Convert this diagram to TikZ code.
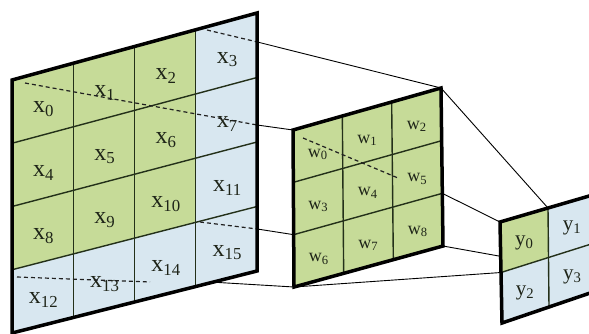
\documentclass[tikz,border=0pt]{standalone}
\usepackage{fontspec}
\setmainfont{Liberation Serif}
\usetikzlibrary{calc}
\definecolor{cgreen}{RGB}{198,219,152}
\definecolor{cblue}{RGB}{216,231,240}
\definecolor{cgrid}{RGB}{35,48,25}
\definecolor{ctext}{RGB}{30,36,24}
\newcommand\mkgrid[6]{%
  \foreach \i in {0,...,#6}{\foreach \j in {0,...,#6}{%
    \coordinate (#1-\i-\j) at ($ ($(#2)!\i/#6!(#3)$)!\j/#6!($(#4)!\i/#6!(#5)$) $);
  }}}
\tikzset{
  outer/.style={line width=3.5pt, line join=miter, black},
  inner/.style={line width=1.4pt, cgrid},
  conn/.style={line width=0.9pt, black},
  dash line/.style={line width=1.2pt, gray!25!black, dash pattern=on 4pt off 3pt},
  xlab/.style={text=ctext, font=\fontsize{24}{24}\selectfont, inner sep=0pt},
  wlab/.style={text=ctext, font=\fontsize{18}{18}\selectfont, inner sep=0pt},
  ylab/.style={text=ctext, font=\fontsize{21}{21}\selectfont, inner sep=0pt},
}
\begin{document}
\begin{tikzpicture}[x=1pt,y=-1pt]
\useasboundingbox (0,0) rectangle (589,333);
% ---------- corners
\coordinate (bTL) at (12,80);   \coordinate (bTR) at (257,13);
\coordinate (bBL) at (12,333);  \coordinate (bBR) at (257,271);
\coordinate (mTL) at (293,130); \coordinate (mTR) at (441,88);
\coordinate (mBL) at (294,287); \coordinate (mBR) at (443,246);
\coordinate (sTL) at (500,222); \coordinate (sTR) at (596,194);
\coordinate (sBL) at (502,323); \coordinate (sBR) at (596,291);
\mkgrid{b}{bTL}{bTR}{bBL}{bBR}{4}
\mkgrid{m}{mTL}{mTR}{mBL}{mBR}{3}
\mkgrid{s}{sTL}{sTR}{sBL}{sBR}{2}
% ---------- big input grid
\fill[cblue] (b-0-0) -- (b-4-0) -- (b-4-4) -- (b-0-4) -- cycle;
\fill[cgreen] (b-0-0) -- (b-3-0) -- (b-3-3) -- (b-0-3) -- cycle;
\foreach \k in {1,2,3}{
  \draw[inner] (b-\k-0) -- (b-\k-4);
  \draw[inner] (b-0-\k) -- (b-4-\k);
}
\foreach \i in {0,...,3}{\foreach \j in {0,...,3}{
  \pgfmathtruncatemacro\ii{\i+1}\pgfmathtruncatemacro\jj{\j+1}
  \pgfmathtruncatemacro\n{4*\j+\i}
  \node[xlab] (x\n) at ($ ($(b-\i-\j)!0.5!(b-\ii-\jj)$) + (1,6) $) {x\textsubscript{\n}};
}}
% dashed projection lines on the input
\coordinate (bA) at ($(b-4-0)!0.112!(b-4-4)$);
\coordinate (bB) at ($(b-4-0)!0.434!(b-4-4)$);
\coordinate (bC) at ($(b-4-0)!0.837!(b-4-4)$);
\coordinate (bD) at ($(b-0-4)!0.82!(b-4-4)$);
\coordinate (d1s) at (207,30);
\coordinate (d2s) at (25,83);
\coordinate (d3s) at (17,277);
\coordinate (d3e) at (150,282);
\coordinate (d4s) at (200,222);
\draw[dash line] (d1s) -- (bA);
\draw[dash line] (d2s) -- (bB);
\draw[dash line] (d3s) -- (d3e);
\draw[dash line] (d4s) -- (bC);
\draw[outer] (b-0-0) -- (b-4-0) -- (b-4-4) -- (b-0-4) -- cycle;
% ---------- kernel grid
\fill[cgreen] (m-0-0) -- (m-3-0) -- (m-3-3) -- (m-0-3) -- cycle;
\foreach \k in {1,2}{
  \draw[inner] (m-\k-0) -- (m-\k-3);
  \draw[inner] (m-0-\k) -- (m-3-\k);
}
\foreach \i in {0,1,2}{\foreach \j in {0,1,2}{
  \pgfmathtruncatemacro\ii{\i+1}\pgfmathtruncatemacro\jj{\j+1}
  \pgfmathtruncatemacro\n{3*\j+\i}
  \node[wlab] (w\n) at ($ ($(m-\i-\j)!0.5!(m-\ii-\jj)$) + (0,5) $) {w\textsubscript{\n}};
}}
\coordinate (md1) at (303,138);
\coordinate (md2) at (398,178);
\draw[dash line] (md1) -- (md2);
\draw[outer] (m-0-0) -- (m-3-0) -- (m-3-3) -- (m-0-3) -- cycle;
% ---------- output grid
\fill[cblue] (s-0-0) -- (s-2-0) -- (s-2-2) -- (s-0-2) -- cycle;
\fill[cgreen] (s-0-0) -- (s-1-0) -- (s-1-1) -- (s-0-1) -- cycle;
\draw[inner] (s-1-0) -- (s-1-2);
\draw[inner] (s-0-1) -- (s-2-1);
\foreach \i in {0,1}{\foreach \j in {0,1}{
  \pgfmathtruncatemacro\ii{\i+1}\pgfmathtruncatemacro\jj{\j+1}
  \pgfmathtruncatemacro\n{2*\j+\i}
  \node[ylab] (y\n) at ($ ($(s-\i-\j)!0.5!(s-\ii-\jj)$) + (0,3) $) {y\textsubscript{\n}};
}}
\draw[outer] (s-0-0) -- (s-2-0) -- (s-2-2) -- (s-0-2) -- cycle;
% ---------- connectors
\coordinate (sL) at ($(s-0-0)!0.34!(s-0-2)$);
\draw[conn] (bA) -- (m-3-0);
\draw[conn] (bB) -- (m-0-0);
\draw[conn] (bC) -- (m-0-2);
\draw[conn] (bD) -- (m-0-3);
\draw[conn] (m-3-0) -- (s-1-0);
\draw[conn] (m-3-2) -- (s-0-0);
\draw[conn] (m-3-3) -- (sL);
\draw[conn] (m-0-3) -- (s-0-1);
\end{tikzpicture}
\end{document}
